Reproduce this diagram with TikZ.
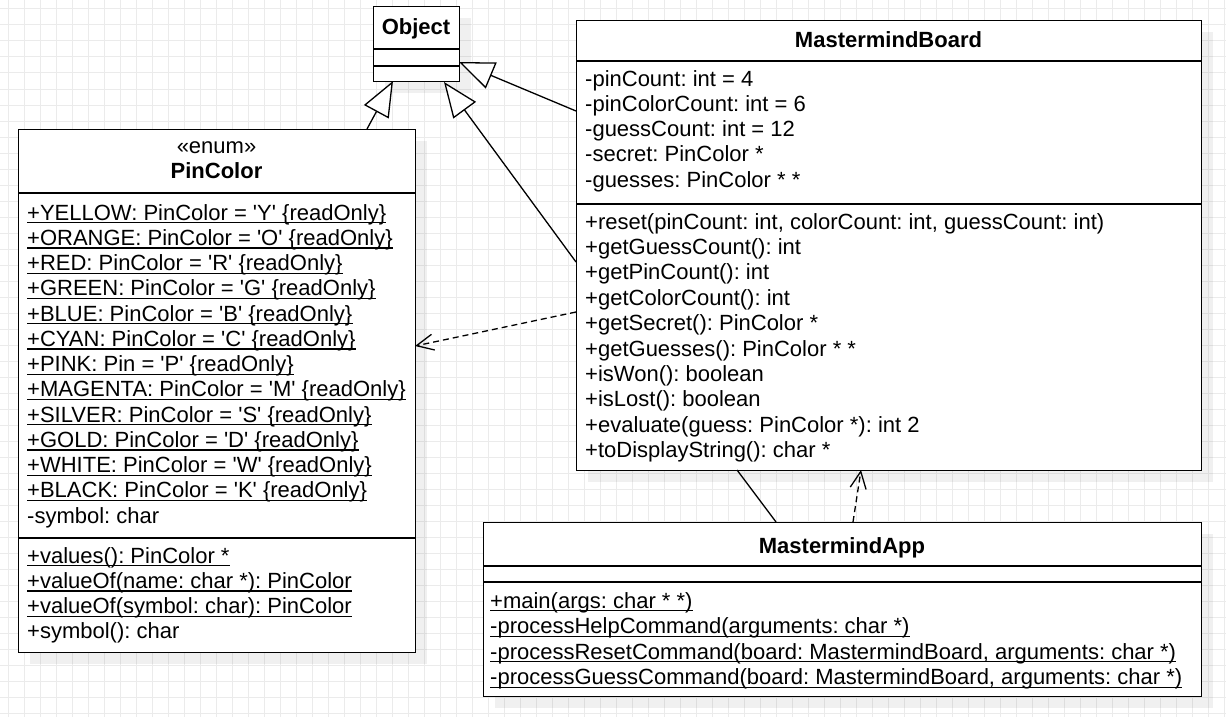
\documentclass[tikz,border=0pt]{standalone}
\usepackage{fontspec}
\setmainfont{Liberation Sans}[Ligatures=TeXOff]
\usetikzlibrary{arrows.meta,shadows,calc}

\newcommand\rowfont{\fontsize{22}{26}\selectfont\frenchspacing}
% one text row of a class compartment, optionally underlined (static members)
\newcommand\plainrow[3]{\node[rowtxt] (#1) at #2 {#3};}
\newcommand\ulrow[3]{\node[rowtxt] (#1) at #2 {#3};
  \draw[ulline] ([yshift=-2.8pt]#1.base west) -- ([yshift=-2.8pt]#1.base east);}

\tikzset{
  gridln/.style={draw=black!8, line width=1pt},
  umlbox/.style={draw=black, line width=1.4pt, fill=white, inner sep=0pt,
    anchor=north west,
    drop shadow={shadow xshift=11pt, shadow yshift=-11pt, fill=black, opacity=0.06}},
  sepline/.style={draw=black, line width=1.4pt},
  rowtxt/.style={anchor=base west, inner sep=0pt, font=\rowfont},
  ttl/.style={anchor=base, inner sep=0pt, font=\rowfont\bfseries},
  stereo/.style={anchor=base, inner sep=0pt, font=\rowfont},
  ulline/.style={draw=black, line width=1.2pt},
  conn/.style={draw=black, line width=1.3pt},
  inherit/.style={conn, -{Triangle[length=35pt,width=28pt,fill=white]}},
  depend/.style={conn, dash pattern=on 6pt off 4pt, -{Straight Barb[length=17pt,width=16pt]}},
}

\begin{document}
\begin{tikzpicture}[x=1pt,y=-1pt]
\useasboundingbox (0,0) rectangle (1226,717);

% background grid
\foreach \gx in {8,24,...,1224} \draw[gridln] (\gx,0) -- (\gx,717);
\foreach \gy in {9,25,...,713} \draw[gridln] (0,\gy) -- (1226,\gy);

% ---------- Object ----------
\node[umlbox, minimum width=86pt, minimum height=75pt] (obj) at (373,6) {};
\draw[sepline] (obj.west |- 0,49) -- (obj.east |- 0,49);
\draw[sepline] (obj.west |- 0,66) -- (obj.east |- 0,66);
\node[ttl] (objT) at (416,35) {Object};

% ---------- PinColor ----------
\node[umlbox, minimum width=397pt, minimum height=523pt] (pin) at (18,129) {};
\draw[sepline] (pin.west |- 0,193) -- (pin.east |- 0,193);
\draw[sepline] (pin.west |- 0,538) -- (pin.east |- 0,538);
\node[stereo] (pinS) at (216.5,153) {«enum»};
\node[ttl] (pinT) at (216.5,178) {PinColor};
\ulrow{p1}{(27,220)}{+YELLOW: PinColor = 'Y' \{readOnly\}}
\ulrow{p2}{(27,245.25)}{+ORANGE: PinColor = 'O' \{readOnly\}}
\ulrow{p3}{(27,270.5)}{+RED: PinColor = 'R' \{readOnly\}}
\ulrow{p4}{(27,295.75)}{+GREEN: PinColor = 'G' \{readOnly\}}
\ulrow{p5}{(27,321)}{+BLUE: PinColor = 'B' \{readOnly\}}
\ulrow{p6}{(27,346.25)}{+CYAN: PinColor = 'C' \{readOnly\}}
\ulrow{p7}{(27,371.5)}{+PINK: Pin = 'P' \{readOnly\}}
\ulrow{p8}{(27,396.75)}{+MAGENTA: PinColor = 'M' \{readOnly\}}
\ulrow{p9}{(27,422)}{+SILVER: PinColor = 'S' \{readOnly\}}
\ulrow{p10}{(27,447.25)}{+GOLD: PinColor = 'D' \{readOnly\}}
\ulrow{p11}{(27,472.5)}{+WHITE: PinColor = 'W' \{readOnly\}}
\ulrow{p12}{(27,497.75)}{+BLACK: PinColor = 'K' \{readOnly\}}
\plainrow{p13}{(27,523)}{-symbol: char}
\ulrow{pm1}{(27,563)}{+values(): PinColor *}
\ulrow{pm2}{(27,588.25)}{+valueOf(name: char *): PinColor}
\ulrow{pm3}{(27,613.5)}{+valueOf(symbol: char): PinColor}
\plainrow{pm4}{(27,638.75)}{+symbol(): char}

% ---------- MastermindBoard ----------
\node[umlbox, minimum width=625pt, minimum height=450pt] (board) at (576,20) {};
\draw[sepline] (board.west |- 0,61) -- (board.east |- 0,61);
\draw[sepline] (board.west |- 0,204) -- (board.east |- 0,204);
\node[ttl] (boardT) at (888.5,47.5) {MastermindBoard};
\plainrow{b1}{(585,86)}{-pinCount: int = 4}
\plainrow{b2}{(585,111.25)}{-pinColorCount: int = 6}
\plainrow{b3}{(585,136.5)}{-guessCount: int = 12}
\plainrow{b4}{(585,161.75)}{-secret: PinColor *}
\plainrow{b5}{(585,187)}{-guesses: PinColor * *}
\plainrow{bm1}{(585,229)}{+reset(pinCount: int, colorCount: int, guessCount: int)}
\plainrow{bm2}{(585,254.4)}{+getGuessCount(): int}
\plainrow{bm3}{(585,279.8)}{+getPinCount(): int}
\plainrow{bm4}{(585,305.2)}{+getColorCount(): int}
\plainrow{bm5}{(585,330.6)}{+getSecret(): PinColor *}
\plainrow{bm6}{(585,356)}{+getGuesses(): PinColor * *}
\plainrow{bm7}{(585,381.4)}{+isWon(): boolean}
\plainrow{bm8}{(585,406.8)}{+isLost(): boolean}
\plainrow{bm9}{(585,432.2)}{+evaluate(guess: PinColor *): int 2}
\plainrow{bm10}{(585,457.6)}{+toDisplayString(): char *}

% ---------- MastermindApp ----------
\node[umlbox, minimum width=718pt, minimum height=174pt] (app) at (483,522) {};
\draw[sepline] (app.west |- 0,566) -- (app.east |- 0,566);
\draw[sepline] (app.west |- 0,582) -- (app.east |- 0,582);
\node[ttl] (appT) at (842,553) {MastermindApp};
\ulrow{a1}{(490,608)}{+main(args: char * *)}
\ulrow{a2}{(490,633.5)}{-processHelpCommand(arguments: char *)}
\ulrow{a3}{(490,659)}{-processResetCommand(board: MastermindBoard, arguments: char *)}
\ulrow{a4}{(490,684.5)}{-processGuessCommand(board: MastermindBoard, arguments: char *)}

% ---------- connector end points ----------
\coordinate (pinUp) at (367,129);
\coordinate (objB1) at (393,81);
\coordinate (boardL1) at (576,111);
\coordinate (objR) at (459,62);
\coordinate (boardL2) at (576,262);
\coordinate (objB2) at (444,82);
\coordinate (boardL3) at (576,312);
\coordinate (pinR) at (415,346);
\coordinate (boardB1) at (737,470);
\coordinate (appT1) at (776,522);
\coordinate (appT2) at (853,522);
\coordinate (boardB2) at (861,470);

% generalizations
\draw[inherit] (pinUp) -- (objB1);
\draw[inherit] (boardL1) -- (objR);
\draw[inherit] (boardL2) -- (objB2);
% dependencies
\draw[depend] (boardL3) -- (pinR);
\draw[depend] (appT2) -- (boardB2);
% association
\draw[conn] (boardB1) -- (appT1);
\end{tikzpicture}
\end{document}
